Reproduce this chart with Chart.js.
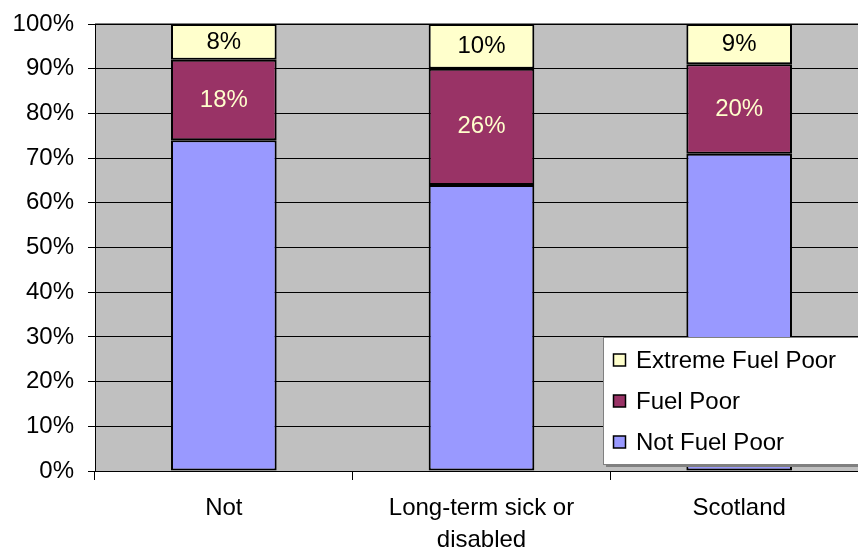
<!DOCTYPE html>
<html>
<head>
<meta charset="utf-8">
<script src="https://cdn.jsdelivr.net/npm/chart.js@4/dist/chart.umd.min.js"></script>
<style>
  html, body { margin: 0; padding: 0; background: #fff; overflow: hidden; }
  #wrap { width: 858px; height: 549px; overflow: hidden; }
</style>
</head>
<body>
<div id="wrap"><canvas id="fuelChart" width="868" height="549"></canvas></div>
<script>
const categories = ['Not', ['Long-term sick or', 'disabled'], 'Scotland'];
const notFuelPoor = [74, 64, 71];
const fuelPoor = [18, 26, 20];
const extremeFuelPoor = [8, 10, 9];
const yTicks = [0, 10, 20, 30, 40, 50, 60, 70, 80, 90, 100];

const FONT = 'Arial, "Liberation Sans", sans-serif';

// grey plot background
const plotBg = {
    id: 'plotBg',
    beforeDraw(chart) {
        const a = chart.chartArea, c = chart.ctx;
        c.save();
        c.fillStyle = '#c0c0c0';
        c.fillRect(a.left, a.top, a.right - a.left, a.bottom - a.top);
        c.strokeStyle = '#808080';
        c.lineWidth = 2;
        c.beginPath();
        c.moveTo(a.left, a.top);
        c.lineTo(a.right, a.top);
        c.stroke();
        c.restore();
    }
};

// percentage labels on the two upper segments
const segLabels = {
    id: 'segLabels',
    afterDatasetsDraw(chart) {
        const c = chart.ctx;
        c.save();
        c.font = '24px ' + FONT;
        c.textAlign = 'center';
        c.textBaseline = 'middle';
        [1, 2].forEach(di => {
            const ds = chart.data.datasets[di];
            chart.getDatasetMeta(di).data.forEach((bar, i) => {
                c.fillStyle = ds.labelColor;
                c.fillText(ds.data[i] + '%', bar.x, (bar.y + bar.base) / 2);
            });
        });
        c.restore();
    }
};

// boxed legend sitting over the lower right of the plot
const boxLegend = {
    id: 'boxLegend',
    afterDraw(chart) {
        const c = chart.ctx;
        const x = 603, y = 337, w = 280, h = 127;
        c.save();
        c.fillStyle = '#808080';
        c.fillRect(x + 3, y + 3, w, h);
        c.fillStyle = '#ffffff';
        c.fillRect(x, y, w, h);
        c.strokeStyle = '#808080';
        c.lineWidth = 1;
        c.strokeRect(x + 0.5, y + 0.5, w, h);
        c.font = '24px ' + FONT;
        c.textBaseline = 'middle';
        const order = [2, 1, 0];
        order.forEach((di, k) => {
            const ds = chart.data.datasets[di];
            const cy = y + 23 + k * 41;
            c.fillStyle = ds.backgroundColor;
            c.fillRect(613.5, cy - 6, 12, 12);
            c.strokeStyle = '#000';
            c.lineWidth = 1.5;
            c.strokeRect(613.5, cy - 6, 12, 12);
            c.fillStyle = '#000';
            c.fillText(ds.label, 636, cy + 1);
        });
        c.restore();
    }
};

new Chart(document.getElementById('fuelChart'), {
    type: 'bar',
    data: {
        labels: categories,
        datasets: [{
            label: 'Not Fuel Poor',
            data: notFuelPoor,
            backgroundColor: '#9999ff'
        }, {
            label: 'Fuel Poor',
            data: fuelPoor,
            backgroundColor: '#993366',
            labelColor: '#ffffcc'
        }, {
            label: 'Extreme Fuel Poor',
            data: extremeFuelPoor,
            backgroundColor: '#ffffcc',
            labelColor: '#000000'
        }].map(d => Object.assign(d, {
            borderColor: '#000',
            borderWidth: 2,
            borderSkipped: false,
            categoryPercentage: 1,
            barPercentage: 0.41
        }))
    },
    options: {
        responsive: false,
        animation: false,
        layout: { padding: { top: 24, left: 0, right: 0, bottom: 0 } },
        plugins: {
            legend: { display: false },
            tooltip: { enabled: false }
        },
        scales: {
            x: {
                stacked: true,
                offset: true,
                grid: {
                    offset: true,
                    drawOnChartArea: false,
                    color: '#000',
                    tickLength: 9
                },
                border: { color: '#000', width: 1 },
                ticks: {
                    color: '#000',
                    font: { size: 24, family: FONT, lineHeight: 1.33 },
                    padding: 12,
                    maxRotation: 0,
                    autoSkip: false
                },
                afterFit(s) { s.height = 78; }
            },
            y: {
                stacked: true,
                min: 0,
                max: 100,
                afterBuildTicks(s) { s.ticks = yTicks.map(v => ({ value: v })); },
                grid: { color: '#000', lineWidth: 1, tickLength: 7 },
                border: { color: '#000', width: 1 },
                ticks: {
                    color: '#000',
                    font: { size: 24, family: FONT, lineHeight: 0.9 },
                    padding: 14,
                    callback: v => v + '%'
                },
                afterFit(s) { s.width = 95; s.paddingTop = 0; s.paddingBottom = 0; }
            }
        }
    },
    plugins: [plotBg, segLabels, boxLegend]
});
</script>
</body>
</html>
